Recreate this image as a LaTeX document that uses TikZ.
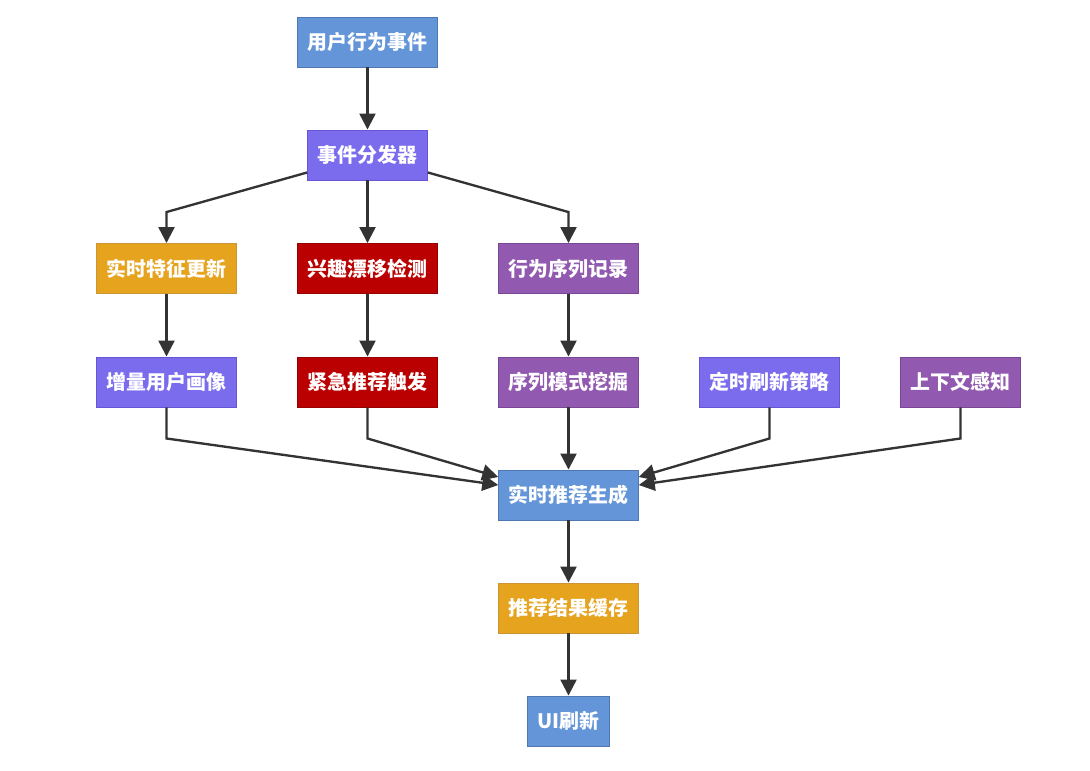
\documentclass[tikz,border=0pt]{standalone}
\usepackage{fontspec}
\setmainfont{Noto Sans CJK SC}
\usetikzlibrary{arrows.meta,positioning,calc}
\definecolor{FlowBlue}{HTML}{6395D8}
\definecolor{FlowBlueLine}{HTML}{4F78B0}
\definecolor{Violet}{HTML}{7B6CEE}
\definecolor{VioletLine}{HTML}{6656D6}
\definecolor{Amber}{HTML}{E6A31E}
\definecolor{AmberLine}{HTML}{C99536}
\definecolor{Crimson}{HTML}{BA0000}
\definecolor{CrimsonLine}{HTML}{960000}
\definecolor{Plum}{HTML}{9159AF}
\definecolor{PlumLine}{HTML}{7A4796}
\definecolor{Ink}{HTML}{333333}
\tikzset{
  box/.style={rectangle,minimum height=1.5cm,inner xsep=0.3cm,align=center,
    font=\fontsize{17}{20}\selectfont\bfseries,text=white,line width=0.8pt},
  bluebox/.style={box,draw=FlowBlueLine,fill=FlowBlue},
  violetbox/.style={box,draw=VioletLine,fill=Violet},
  amberbox/.style={box,draw=AmberLine,fill=Amber},
  redbox/.style={box,draw=CrimsonLine,fill=Crimson},
  plumbox/.style={box,draw=PlumLine,fill=Plum},
  arr/.style={-{Triangle[length=4.8mm,width=4.8mm]},draw=Ink,line width=2pt}
}
\begin{document}
\begin{tikzpicture}[x=0.03cm,y=-0.03cm]
  \useasboundingbox (0,0) rectangle (1090,770);
  % top of the flow
  \node[bluebox] (event) at (367.5,42) {用户行为事件};
  \node[violetbox] (disp) at (367.5,155) {事件分发器};
  % branches
  \node[amberbox] (feat) at (166.5,268.5) {实时特征更新};
  \node[redbox] (drift) at (367.5,268.5) {兴趣漂移检测};
  \node[plumbox] (seq) at (568.5,268.5) {行为序列记录};
  \node[violetbox] (prof) at (166.5,382) {增量用户画像};
  \node[redbox] (urgent) at (367.5,382) {紧急推荐触发};
  \node[plumbox] (mine) at (568.5,382) {序列模式挖掘};
  \node[violetbox] (timer) at (769.5,382) {定时刷新策略};
  \node[plumbox] (ctx) at (960.5,382) {上下文感知};
  % merge and output
  \node[bluebox] (gen) at (568.5,495) {实时推荐生成};
  \node[amberbox] (cache) at (568.5,608) {推荐结果缓存};
  \node[bluebox] (ui) at (568.5,721) {UI刷新};

  \draw[arr] (event) -- (disp);
  \draw[arr] ([yshift=0.24cm]disp.south west) -- ([yshift=0.93cm]feat.north) -- (feat);
  \draw[arr] (disp) -- (drift);
  \draw[arr] ([yshift=0.24cm]disp.south east) -- ([yshift=0.93cm]seq.north) -- (seq);
  \draw[arr] (feat) -- (prof);
  \draw[arr] (drift) -- (urgent);
  \draw[arr] (seq) -- (mine);
  \draw[arr] (prof) -- ([yshift=-0.93cm]prof.south) -- ([yshift=0.3cm]gen.west);
  \draw[arr] (urgent) -- ([yshift=-0.93cm]urgent.south) -- ([yshift=0.54cm]gen.west);
  \draw[arr] (mine) -- (gen);
  \draw[arr] (timer) -- ([yshift=-0.93cm]timer.south) -- ([yshift=0.54cm]gen.east);
  \draw[arr] (ctx) -- ([yshift=-0.93cm]ctx.south) -- ([yshift=0.3cm]gen.east);
  \draw[arr] (gen) -- (cache);
  \draw[arr] (cache) -- (ui);
\end{tikzpicture}
\end{document}
